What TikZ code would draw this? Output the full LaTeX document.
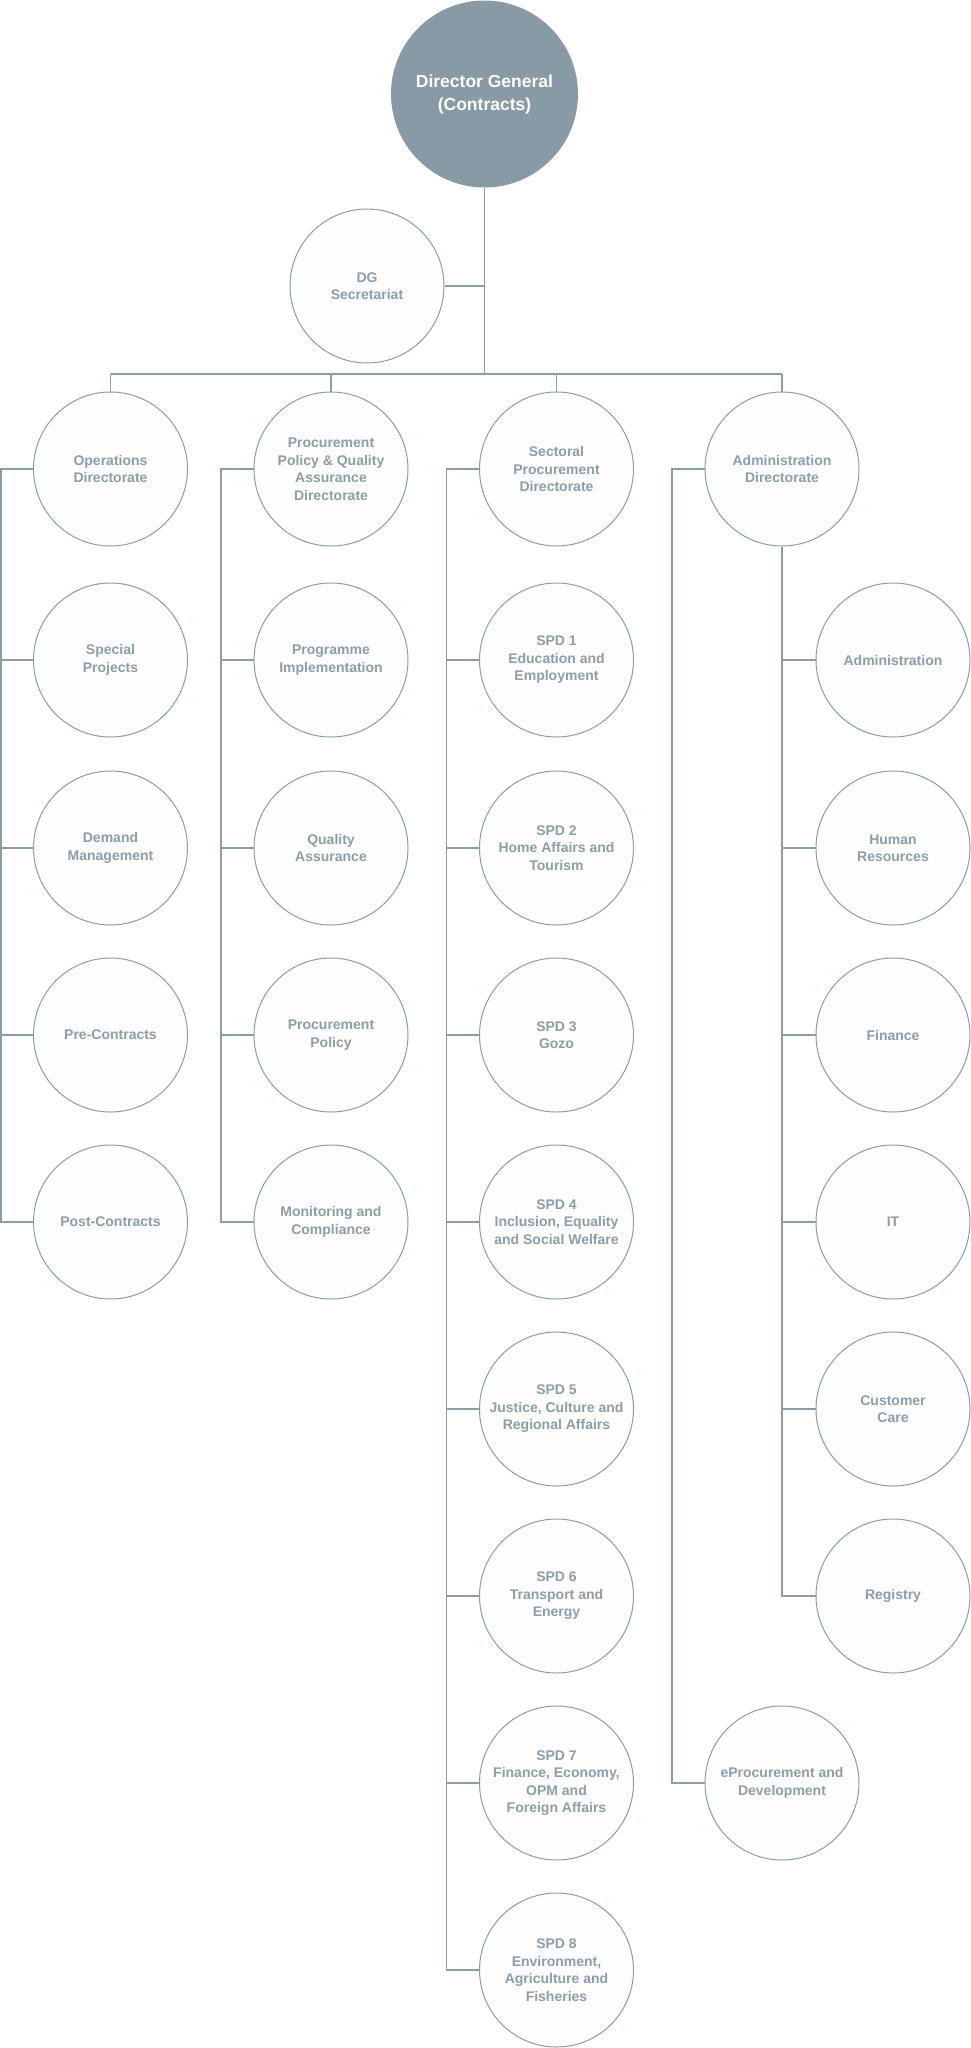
\documentclass[tikz,border=0pt]{standalone}
\usepackage{fontspec}
\setmainfont{Liberation Sans}
\definecolor{lineC}{HTML}{8A9DA9}
\definecolor{dgFill}{HTML}{879AA5}
\definecolor{txtC}{HTML}{8C9EAA}
\definecolor{unitFill}{HTML}{FDFDFD}
\tikzset{
  unit/.style={circle, draw=lineC, line width=1pt, fill=unitFill, minimum size=154pt, inner sep=0pt},
  txt/.style={font=\fontsize{14}{17.5}\selectfont\bfseries, text=txtC, align=center, inner sep=0pt},
  dgnode/.style={circle, fill=dgFill, minimum size=187pt, inner sep=0pt},
  dgtxt/.style={font=\fontsize{17.5}{23}\selectfont\bfseries, text=white, align=center, inner sep=0pt},
  conn/.style={draw=lineC, line width=1.6pt}
}
\newcommand{\unitnode}[4]{\node[unit, label={[txt]center:{#4}}] (#1) at (#2,#3) {};}
\begin{document}
\begin{tikzpicture}[x=1pt, y=-1pt]
\useasboundingbox (0,0) rectangle (971,2048);
% top
\node[dgnode, label={[dgtxt]center:{Director General\\(Contracts)}}] (dg) at (484.5,94) {};
\unitnode{sec}{367}{286}{DG\\Secretariat}
% directorates
\unitnode{ops}{110.5}{469}{Operations\\Directorate}
\unitnode{ppq}{331}{469}{Procurement\\Policy \& Quality\\Assurance\\Directorate}
\unitnode{spd}{556.5}{469}{Sectoral\\Procurement\\Directorate}
\unitnode{adm}{782}{469}{Administration\\Directorate}
% column 1
\unitnode{spec}{110.5}{660}{Special\\Projects}
\unitnode{dem}{110.5}{848}{Demand\\Management}
\unitnode{pre}{110.5}{1035}{Pre-Contracts}
\unitnode{post}{110.5}{1222}{Post-Contracts}
% column 2
\unitnode{prog}{331}{660}{Programme\\Implementation}
\unitnode{qa}{331}{848}{Quality\\Assurance}
\unitnode{pp}{331}{1035}{Procurement\\Policy}
\unitnode{mon}{331}{1222}{Monitoring and\\Compliance}
% column 3
\unitnode{s1}{556.5}{660}{SPD 1\\Education and\\Employment}
\unitnode{s2}{556.5}{848}{SPD 2\\Home Affairs and\\Tourism}
\unitnode{s3}{556.5}{1035}{SPD 3\\Gozo}
\unitnode{s4}{556.5}{1222}{SPD 4\\Inclusion, Equality\\and Social Welfare}
\unitnode{s5}{556.5}{1409}{SPD 5\\Justice, Culture and\\Regional Affairs}
\unitnode{s6}{556.5}{1596}{SPD 6\\Transport and\\Energy}
\unitnode{s7}{556.5}{1783}{SPD 7\\Finance, Economy,\\OPM and\\Foreign Affairs}
\unitnode{s8}{556.5}{1970}{SPD 8\\Environment,\\Agriculture and\\Fisheries}
% column 4
\unitnode{eproc}{782}{1783}{eProcurement and\\Development}
\unitnode{a1}{893}{660}{Administration}
\unitnode{a2}{893}{848}{Human\\Resources}
\unitnode{a3}{893}{1035}{Finance}
\unitnode{a4}{893}{1222}{IT}
\unitnode{a5}{893}{1409}{Customer\\Care}
\unitnode{a6}{893}{1596}{Registry}
% connectors top
\coordinate (bus) at (484.5,374);
\coordinate (busL) at (110.5,374);
\coordinate (busR) at (782,374);
\draw[conn] (dg.south) -- (bus);
\draw[conn] (sec.east) -- (sec.east -| dg.south);
\draw[conn] (busL) -- (busR);
\draw[conn] (ops.north) -- (ops.north |- bus);
\draw[conn] (ppq.north) -- (ppq.north |- bus);
\draw[conn] (spd.north) -- (spd.north |- bus);
\draw[conn] (adm.north) -- (adm.north |- bus);
% side lines
\coordinate (opsL) at (1,469);
\coordinate (ppqL) at (221,469);
\coordinate (spdL) at (446.5,469);
\coordinate (admL) at (672,469);
\draw[conn] (ops.west) -- (opsL) |- (post.west);
\foreach \n in {spec,dem,pre} \draw[conn] (opsL |- \n.west) -- (\n.west);
\draw[conn] (ppq.west) -- (ppqL) |- (mon.west);
\foreach \n in {prog,qa,pp} \draw[conn] (ppqL |- \n.west) -- (\n.west);
\draw[conn] (spd.west) -- (spdL) |- (s8.west);
\foreach \n in {s1,s2,s3,s4,s5,s6,s7} \draw[conn] (spdL |- \n.west) -- (\n.west);
\draw[conn] (adm.west) -- (admL) |- (eproc.west);
\draw[conn] (adm.south) |- (a6.west);
\foreach \n in {a1,a2,a3,a4,a5} \draw[conn] (adm.south |- \n.west) -- (\n.west);
\end{tikzpicture}
\end{document}
